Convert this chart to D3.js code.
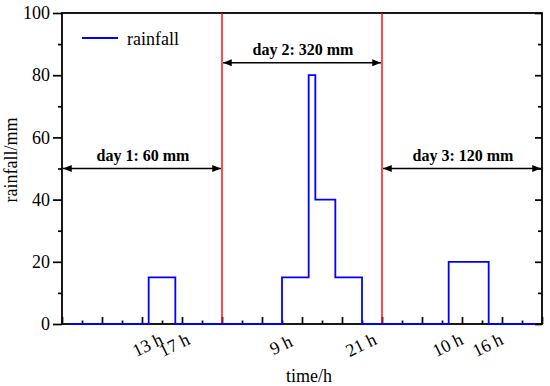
<!DOCTYPE html>
<html><head><meta charset="utf-8">
<script src="https://cdn.jsdelivr.net/npm/d3@7"></script>
<style>body{margin:0;background:#fff}svg{display:block}</style>
</head><body>
<svg id="c" width="550" height="386"></svg>
<script>
// ---- data ----
const stepTimes  = [1, 13, 17, 33, 37, 38, 41, 45, 58, 64, 71];   // hours (boundaries)
const stepValues = [0, 15, 0, 15, 80, 40, 15, 0, 20, 0];          // mm, value after each boundary
const dayBounds  = [0, 24, 48, 72];
const dayLabels  = ["day 1: 60 mm", "day 2: 320 mm", "day 3: 120 mm"];
const dayArrowY  = [50, 84, 50];
const tickHours  = [13, 17, 33, 45, 58, 64];
const tickLabels = ["13 h", "17 h", "9 h", "21 h", "10 h", "16 h"];
const yMajor = [0, 20, 40, 60, 80, 100];
const yMinor = [10, 30, 50, 70, 90];
const xMajor = d3.range(0, 73, 6);
const xMinor = d3.range(3, 72, 6);

const L = 62, R = 542, T = 13, B = 324;
const FONT = '"Liberation Serif","Times New Roman",serif';
const svg = d3.select("#c");
const x = d3.scaleLinear().domain([0, 72]).range([L, R]);
const y = d3.scaleLinear().domain([0, 100]).range([B, T]);

function styleAxis(g){ g.select(".domain").remove(); g.selectAll("line").attr("stroke","#000").attr("stroke-width",1.7); }

// axes ticks
svg.append("g").attr("transform",`translate(${L},0)`)
  .call(d3.axisLeft(y).tickValues(yMajor).tickSize(9).tickPadding(3))
  .call(styleAxis)
  .call(g=>g.selectAll("text").attr("font-family",FONT).attr("font-size",18).attr("fill","#000"));
svg.append("g").attr("transform",`translate(${L},0)`)
  .call(d3.axisLeft(y).tickValues(yMinor).tickSize(4).tickFormat(""))
  .call(styleAxis);
svg.append("g").attr("transform",`translate(${R},0)`)
  .call(d3.axisLeft(y).tickValues(yMajor).tickSize(7).tickFormat(""))
  .call(styleAxis);
svg.append("g").attr("transform",`translate(${R},0)`)
  .call(d3.axisLeft(y).tickValues(yMinor).tickSize(4).tickFormat(""))
  .call(styleAxis);
svg.append("g").attr("transform",`translate(0,${B})`)
  .call(d3.axisTop(x).tickValues(xMajor).tickSize(7).tickFormat(""))
  .call(styleAxis);
svg.append("g").attr("transform",`translate(0,${B})`)
  .call(d3.axisTop(x).tickValues(xMinor).tickSize(3.5).tickFormat(""))
  .call(styleAxis);

// frame
svg.append("rect").attr("x",L).attr("y",T).attr("width",R-L).attr("height",B-T)
  .attr("fill","none").attr("stroke","#000").attr("stroke-width",1.8);

// x tick labels (rotated)
svg.append("g").selectAll("text").data(tickHours).join("text")
  .attr("transform",(d)=>`translate(${x(d)-1},345) rotate(-26)`)
  .attr("text-anchor","middle").attr("dominant-baseline","central")
  .attr("font-family",FONT).attr("font-size",18).attr("fill","#000")
  .text((d,i)=>tickLabels[i]);

// red day boundaries
svg.append("g").selectAll("line").data(dayBounds.slice(1,3)).join("line")
  .attr("x1",d=>x(d)).attr("x2",d=>x(d)).attr("y1",y(0)).attr("y2",y(100))
  .attr("stroke","#ff0000").attr("stroke-width",1.4);

// rainfall step line
const pts = stepTimes.map((t,i)=>[t, i<stepValues.length ? stepValues[i] : stepValues[stepValues.length-1]]);
const line = d3.line().x(d=>x(d[0])).y(d=>y(d[1])).curve(d3.curveStepAfter);
svg.append("path").datum(pts).attr("d",line).attr("fill","none")
  .attr("stroke","#0000ff").attr("stroke-width",1.8);

// arrows
const defs = svg.append("defs");
defs.append("marker").attr("id","ah").attr("viewBox","0 0 10 8").attr("refX",10).attr("refY",4)
  .attr("markerWidth",10).attr("markerHeight",7).attr("markerUnits","userSpaceOnUse").attr("orient","auto-start-reverse")
  .append("path").attr("d","M0,0L10,4L0,8Z").attr("fill","#000");
const ann = svg.append("g");
dayLabels.forEach((lab,i)=>{
  const x0 = x(dayBounds[i]), x1 = x(dayBounds[i+1]), yy = y(dayArrowY[i]);
  ann.append("line").attr("x1",x0+1).attr("x2",x1-1).attr("y1",yy).attr("y2",yy)
    .attr("stroke","#000").attr("stroke-width",1.5)
    .attr("marker-start","url(#ah)").attr("marker-end","url(#ah)");
  ann.append("text").attr("x",(x0+x1)/2+1).attr("y",yy-8).attr("text-anchor","middle")
    .attr("font-family",FONT).attr("font-size",16).attr("font-weight","bold").attr("fill","#000")
    .text(lab);
});

// legend
svg.append("line").attr("x1",82).attr("x2",118).attr("y1",38).attr("y2",38)
  .attr("stroke","#0000ff").attr("stroke-width",1.8);
svg.append("text").attr("x",127).attr("y",45).attr("font-family",FONT).attr("font-size",18).attr("fill","#000").text("rainfall");

// axis titles
svg.append("text").attr("transform","translate(17,160) rotate(-90)").attr("text-anchor","middle")
  .attr("font-family",FONT).attr("font-size",18).attr("fill","#000").text("rainfall/mm");
svg.append("text").attr("x",309).attr("y",382).attr("text-anchor","middle")
  .attr("font-family",FONT).attr("font-size",18).attr("fill","#000").text("time/h");
</script>
</body></html>
